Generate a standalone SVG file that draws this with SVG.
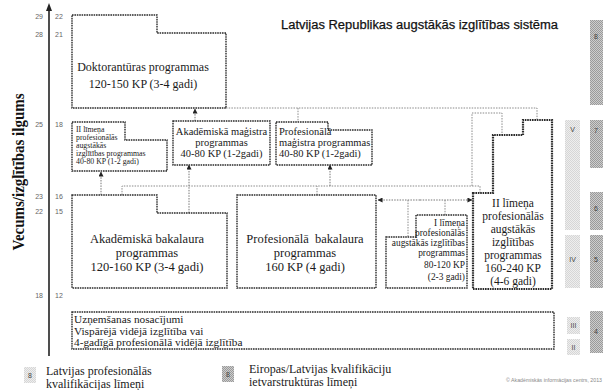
<svg xmlns="http://www.w3.org/2000/svg" width="603" height="390" viewBox="0 0 603 390">
<defs>
<marker id="ah" viewBox="0 0 6 6" refX="5.5" refY="3" markerWidth="5" markerHeight="5" orient="auto" markerUnits="userSpaceOnUse"><path d="M0,0 L6,3 L0,6 z" fill="#222"/></marker>
<pattern id="darkPat" width="2" height="2" patternUnits="userSpaceOnUse"><rect width="2" height="2" fill="#cdcdcd"/><rect width="1" height="1" fill="#9a9a9a"/><rect x="1" y="1" width="1" height="1" fill="#9a9a9a"/></pattern>
<pattern id="lightPat" width="2" height="2" patternUnits="userSpaceOnUse"><rect width="2" height="2" fill="#eeeeee"/><rect width="1" height="1" fill="#d6d6d6"/><rect x="1" y="1" width="1" height="1" fill="#d6d6d6"/></pattern>
</defs>
<style>
.box{fill:#fff;stroke:#2b2b2b;stroke-width:1.4;stroke-dasharray:1.6 0.8}
.thick{stroke-width:2.2}
.conn{fill:none;stroke:#8a8a8a;stroke-width:1;stroke-dasharray:1.5 1.2}
.arr{fill:none;stroke:#777;stroke-width:1;stroke-dasharray:1.5 1.2;marker-end:url(#ah)}
.t{font-family:"Liberation Serif","Times New Roman",serif;fill:#1a1a1a}
.num{font-family:"Liberation Sans",Arial,sans-serif;font-size:7px;fill:#666}
.dark{fill:url(#darkPat)}
.light{fill:url(#lightPat)}
.lbl{font-family:"Liberation Sans",Arial,sans-serif;font-size:7px;fill:#444;text-anchor:middle}
</style>
<rect width="603" height="390" fill="#fff"/>

<!-- title -->
<text x="281" y="29" font-family="Liberation Sans, Arial, sans-serif" font-size="12.5" fill="#111" stroke="#111" stroke-width="0.25" textLength="277" lengthAdjust="spacingAndGlyphs">Latvijas Republikas augstākās izglītības sistēma</text>

<!-- axis -->
<g id="axis">
<line x1="49" y1="9" x2="49" y2="356" stroke="#222" stroke-width="1.6"/>
<polygon points="49,3 46,11 52,11" fill="#222"/>
<text transform="translate(24,172) rotate(-90)" text-anchor="middle" font-family="Liberation Serif, Times New Roman, serif" font-weight="bold" font-size="17" fill="#111" textLength="157" lengthAdjust="spacingAndGlyphs">Vecums/izglītības ilgums</text>
<g class="num">
<text x="43" y="19" text-anchor="end">29</text><text x="55" y="19">22</text>
<text x="43" y="37" text-anchor="end">28</text><text x="55" y="37">21</text>
<text x="43" y="127" text-anchor="end">25</text><text x="55" y="127">18</text>
<text x="43" y="199" text-anchor="end">23</text><text x="55" y="199">16</text>
<text x="43" y="214" text-anchor="end">22</text><text x="55" y="214">15</text>
<text x="43" y="298" text-anchor="end">18</text><text x="55" y="298">12</text>
</g>
</g>

<!-- connectors -->
<g id="connectors">
<polyline class="conn" points="226,108 537,108 537,120"/>
<polyline class="conn" points="298,108 298,122"/>
<polyline class="arr" points="195,121 195,109"/>
<polyline class="arr" points="101,195 101,172"/>
<polyline class="conn" points="122,195 122,186 480,186 480,193"/>
<polyline class="conn" points="472,186 472,113 502,113 502,135"/>
<polyline class="arr" points="189,213 189,165"/>
<polyline class="conn" points="317,195 317,186"/>
<polyline class="arr" points="330,186 330,165"/>
<polyline class="arr" points="420,200 378,200"/>
<polyline class="arr" points="420,200 472,200"/>
<polyline class="conn" points="408,200 408,237"/>
<polyline class="conn" points="445,200 445,215"/>
</g>

<!-- nodes -->
<g id="doktor">
<polygon class="box" points="72,15 157,15 157,33 226,33 226,108 72,108"/>
<text class="t" x="143" y="71" font-size="12" text-anchor="middle">Doktorantūras programmas</text>
<text class="t" x="143" y="88" font-size="12" text-anchor="middle">120-150 KP (3-4 gadi)</text>
</g>

<g id="ii-limena-mag">
<polygon class="box" points="72,122 125,122 125,140 167,140 167,171 72,171"/>
<g class="t" font-size="7.8">
<text x="76" y="132">II līmeņa</text>
<text x="76" y="140">profesionālās</text>
<text x="76" y="148">augstākās</text>
<text x="76" y="156">izglītības programmas</text>
<text x="76" y="164">40-80 KP (1-2 gadi)</text>
</g>
</g>

<g id="akad-mag">
<rect class="box" x="173" y="121" width="97" height="44"/>
<g class="t" font-size="10.5" text-anchor="middle">
<text x="221.5" y="135">Akadēmiskā maģistra</text>
<text x="221.5" y="146">programmas</text>
<text x="221.5" y="157">40-80 KP (1-2gadi)</text>
</g>
</g>

<g id="prof-mag">
<polygon class="box" points="276,122 328,122 328,130 372,130 372,165 276,165"/>
<g class="t" font-size="10.5">
<text x="279" y="135">Profesionālā</text>
<text x="279" y="146">maģistra programmas</text>
<text x="279" y="157">40-80 KP (1-2gadi)</text>
</g>
</g>

<g id="akad-bak">
<polygon class="box" points="72,195 157,195 157,213 227,213 227,288 72,288"/>
<g class="t" font-size="12.5" text-anchor="middle">
<text x="147" y="243">Akadēmiskā bakalaura</text>
<text x="147" y="257">programmas</text>
<text x="147" y="271">120-160 KP (3-4 gadi)</text>
</g>
</g>

<g id="prof-bak">
<rect class="box" x="237" y="195" width="139" height="93"/>
<g class="t" font-size="12.5" text-anchor="middle">
<text x="305" y="243" xml:space="preserve">Profesionālā  bakalaura</text>
<text x="305" y="257">programmas</text>
<text x="305" y="271">160 KP (4 gadi)</text>
</g>
</g>

<g id="i-limena">
<polygon class="box" points="386,237 416,237 416,215 467,215 467,288 386,288"/>
<g class="t" font-size="9.4" text-anchor="end">
<text x="465" y="226">I līmeņa</text>
<text x="465" y="236">profesionālās</text>
<text x="465" y="246">augstākās izglītības</text>
<text x="465" y="256">programmas</text>
<text x="465" y="268">80-120 KP</text>
<text x="465" y="280">(2-3 gadi)</text>
</g>
</g>

<g id="ii-limena-big">
<polygon class="box thick" points="473,193 493,193 493,135 523,135 523,120 552,120 552,289 473,289"/>
<g class="t" font-size="11.5" text-anchor="middle">
<text x="513" y="207">II līmeņa</text>
<text x="513" y="220">profesionālās</text>
<text x="513" y="233">augstākās</text>
<text x="513" y="246">izglītības</text>
<text x="513" y="259">programmas</text>
<text x="513" y="272">160-240 KP</text>
<text x="513" y="285">(4-6 gadi)</text>
</g>
</g>

<g id="uznemsana">
<rect class="box" x="72" y="312" width="482" height="37"/>
<g class="t" font-size="11.3">
<text x="74" y="323">Uzņemšanas nosacījumi</text>
<text x="74" y="334.5">Vispārējā vidējā izglītība vai</text>
<text x="74" y="346">4-gadīgā profesionālā vidējā izglītība</text>
</g>
</g>

<!-- level columns -->
<g id="levels">
<rect class="dark" x="590" y="20" width="13" height="85"/><text class="lbl" x="596" y="39">8</text>
<rect class="light" x="565" y="120" width="15" height="110"/><text class="lbl" x="572.5" y="132">V</text>
<rect class="dark" x="590" y="120" width="13" height="48"/><text class="lbl" x="596" y="133">7</text>
<rect class="dark" x="590" y="192" width="13" height="38"/><text class="lbl" x="596" y="211">6</text>
<rect class="light" x="565" y="235" width="15" height="53"/><text class="lbl" x="572.5" y="262">IV</text>
<rect class="dark" x="590" y="235" width="13" height="53"/><text class="lbl" x="596" y="262">5</text>
<rect class="light" x="567" y="317" width="13" height="17"/><text class="lbl" x="573.5" y="328">III</text>
<rect class="light" x="567" y="339" width="13" height="16"/><text class="lbl" x="573.5" y="350">II</text>
<rect class="dark" x="590" y="311" width="13" height="42"/><text class="lbl" x="596" y="334">4</text>
</g>

<!-- legend -->
<g id="legend">
<rect class="light" x="24" y="367" width="12" height="16"/><text class="lbl" x="30" y="378">8</text>
<text class="t" x="46" y="375" font-size="12">Latvijas profesionālās</text>
<text class="t" x="46" y="388" font-size="12">kvalifikācijas līmeņi</text>
<rect class="dark" x="222" y="366" width="12" height="16"/><text class="lbl" x="228" y="377">8</text>
<text class="t" x="249" y="373" font-size="12">Eiropas/Latvijas kvalifikāciju</text>
<text class="t" x="249" y="386" font-size="12">ietvarstruktūras līmeņi</text>
<text x="506" y="382" font-family="Liberation Sans, Arial, sans-serif" font-size="5" fill="#888" textLength="96" lengthAdjust="spacingAndGlyphs">© Akadēmiskās informācijas centrs, 2013</text>
</g>
</svg>
